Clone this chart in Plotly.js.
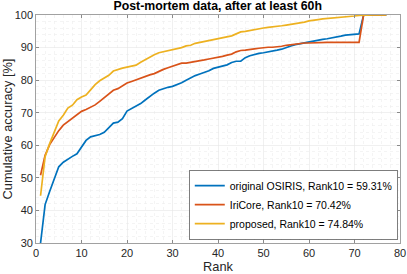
<!DOCTYPE html>
<html>
<head>
<meta charset="utf-8">
<script src="https://cdn.plot.ly/plotly-3.0.1.min.js"></script>
<style>html,body{margin:0;padding:0;background:#fff}#chart{width:407px;height:274px}</style>
</head>
<body>
<div id="chart"></div>
<script>
const seriesNames = ["original OSIRIS, Rank10 = 59.31%", "IriCore, Rank10 = 70.42%", "proposed, Rank10 = 74.84%"];
const osiris = [30.0,41.8,45.8,49.6,53.4,54.8,55.8,56.6,57.4,59.31,61.5,62.6,62.9,63.3,64.0,65.3,66.8,67.1,68.2,70.5,
71.3,72.2,72.8,73.9,75.0,76.0,76.9,77.4,77.8,78.1,78.6,79.2,80.0,80.8,81.4,81.9,82.3,82.9,83.6,83.9,
84.2,84.7,85.4,85.8,85.8,86.9,87.5,87.9,88.2,88.4,88.6,88.9,89.2,89.5,90.1,90.5,90.9,91.2,91.5,91.8,
92.0,92.3,92.5,92.7,92.9,93.2,93.5,93.8,93.9,94.1,94.2,100,100,100,100,100,100];
const iricore = [50.8,56.9,60.2,62.5,64.5,66.2,67.3,68.3,69.4,70.42,71.0,71.7,72.4,73.5,74.6,75.8,76.9,77.4,78.3,79.1,
79.6,80.1,80.8,81.2,81.6,82.0,82.7,83.3,83.8,84.3,84.8,85.2,85.2,85.4,85.7,85.9,86.2,86.5,86.7,87.0,
87.3,87.7,88.0,88.7,89.1,89.2,89.5,89.6,89.8,90.0,90.1,90.1,90.2,90.4,90.7,90.9,91.0,91.2,91.4,91.4,
91.5,91.6,91.6,91.6,91.6,91.6,91.6,91.6,91.6,91.6,91.6,100,100,100,100,100,100];
const proposed = [44.5,56.5,60.5,64.0,67.5,69.2,71.4,72.3,74.0,74.84,75.4,77.0,78.6,79.8,80.6,81.5,82.8,83.3,83.7,84.0,
84.3,84.6,85.5,86.3,87.0,87.8,88.4,88.7,89.0,89.3,89.6,90.0,90.5,90.7,91.3,91.6,91.7,92.0,92.4,92.8,
93.1,93.3,93.6,94.2,94.8,95.0,95.3,95.5,95.8,96.0,96.2,96.3,96.5,96.7,96.9,97.1,97.3,97.5,97.8,98.2,
98.5,98.6,98.8,98.9,99.0,99.2,99.3,99.5,99.6,99.7,99.9,100,100,100,100,100,100];
const ranks = osiris.map((_, i) => i + 1);
const colors = ["#0072BD", "#D95319", "#EDB120"];
const allSeries = [osiris, iricore, proposed];

const traces = allSeries.map((ys, k) => ({
  x: ranks, y: ys, type: "scatter", mode: "lines", name: seriesNames[k],
  line: {color: colors[k], width: 1.7}
}));

const fontFam = "Liberation Sans, Arial, sans-serif";
const axisCommon = {
  showline: true, mirror: "ticks", linecolor: "#8a8a8a", linewidth: 0.8,
  ticks: "inside", ticklen: 3, tickcolor: "#8a8a8a",
  showgrid: true, gridcolor: "#e6e6e6", gridwidth: 0.6,
  zeroline: false,
  tickfont: {family: fontFam, size: 11, color: "#262626"},
  minor: {dtick: 2, showgrid: true, gridcolor: "#ececec", griddash: "dot", gridwidth: 0.6, ticks: ""}
};

const layout = {
  width: 407, height: 274,
  margin: {l: 36, r: 7, t: 15, b: 30.5},
  paper_bgcolor: "#fff", plot_bgcolor: "#fff",
  showlegend: true,
  title: {text: "<b>Post-mortem data, after at least 60h</b>", font: {family: fontFam, size: 12.3, color: "#000"},
          x: 0.535, xanchor: "center", y: 0.995, yanchor: "top"},
  xaxis: Object.assign({}, axisCommon, {range: [0, 80], dtick: 10, tick0: 0,
    title: {text: "Rank", font: {family: fontFam, size: 12.8, color: "#262626"}, standoff: 3}}),
  yaxis: Object.assign({}, axisCommon, {range: [30, 100], dtick: 10, tick0: 30,
    title: {text: "Cumulative accuracy [%]", font: {family: fontFam, size: 12.8, color: "#262626"}, standoff: 2}}),
  legend: {x: 0.995, xanchor: "right", y: 0.015, yanchor: "bottom",
    bgcolor: "#fff", bordercolor: "#262626", borderwidth: 0.6,
    font: {family: fontFam, size: 10.5, color: "#000"}, itemwidth: 30, tracegroupgap: 0}
};

Plotly.newPlot("chart", traces, layout, {displayModeBar: false, staticPlot: true});
</script>
</body>
</html>
